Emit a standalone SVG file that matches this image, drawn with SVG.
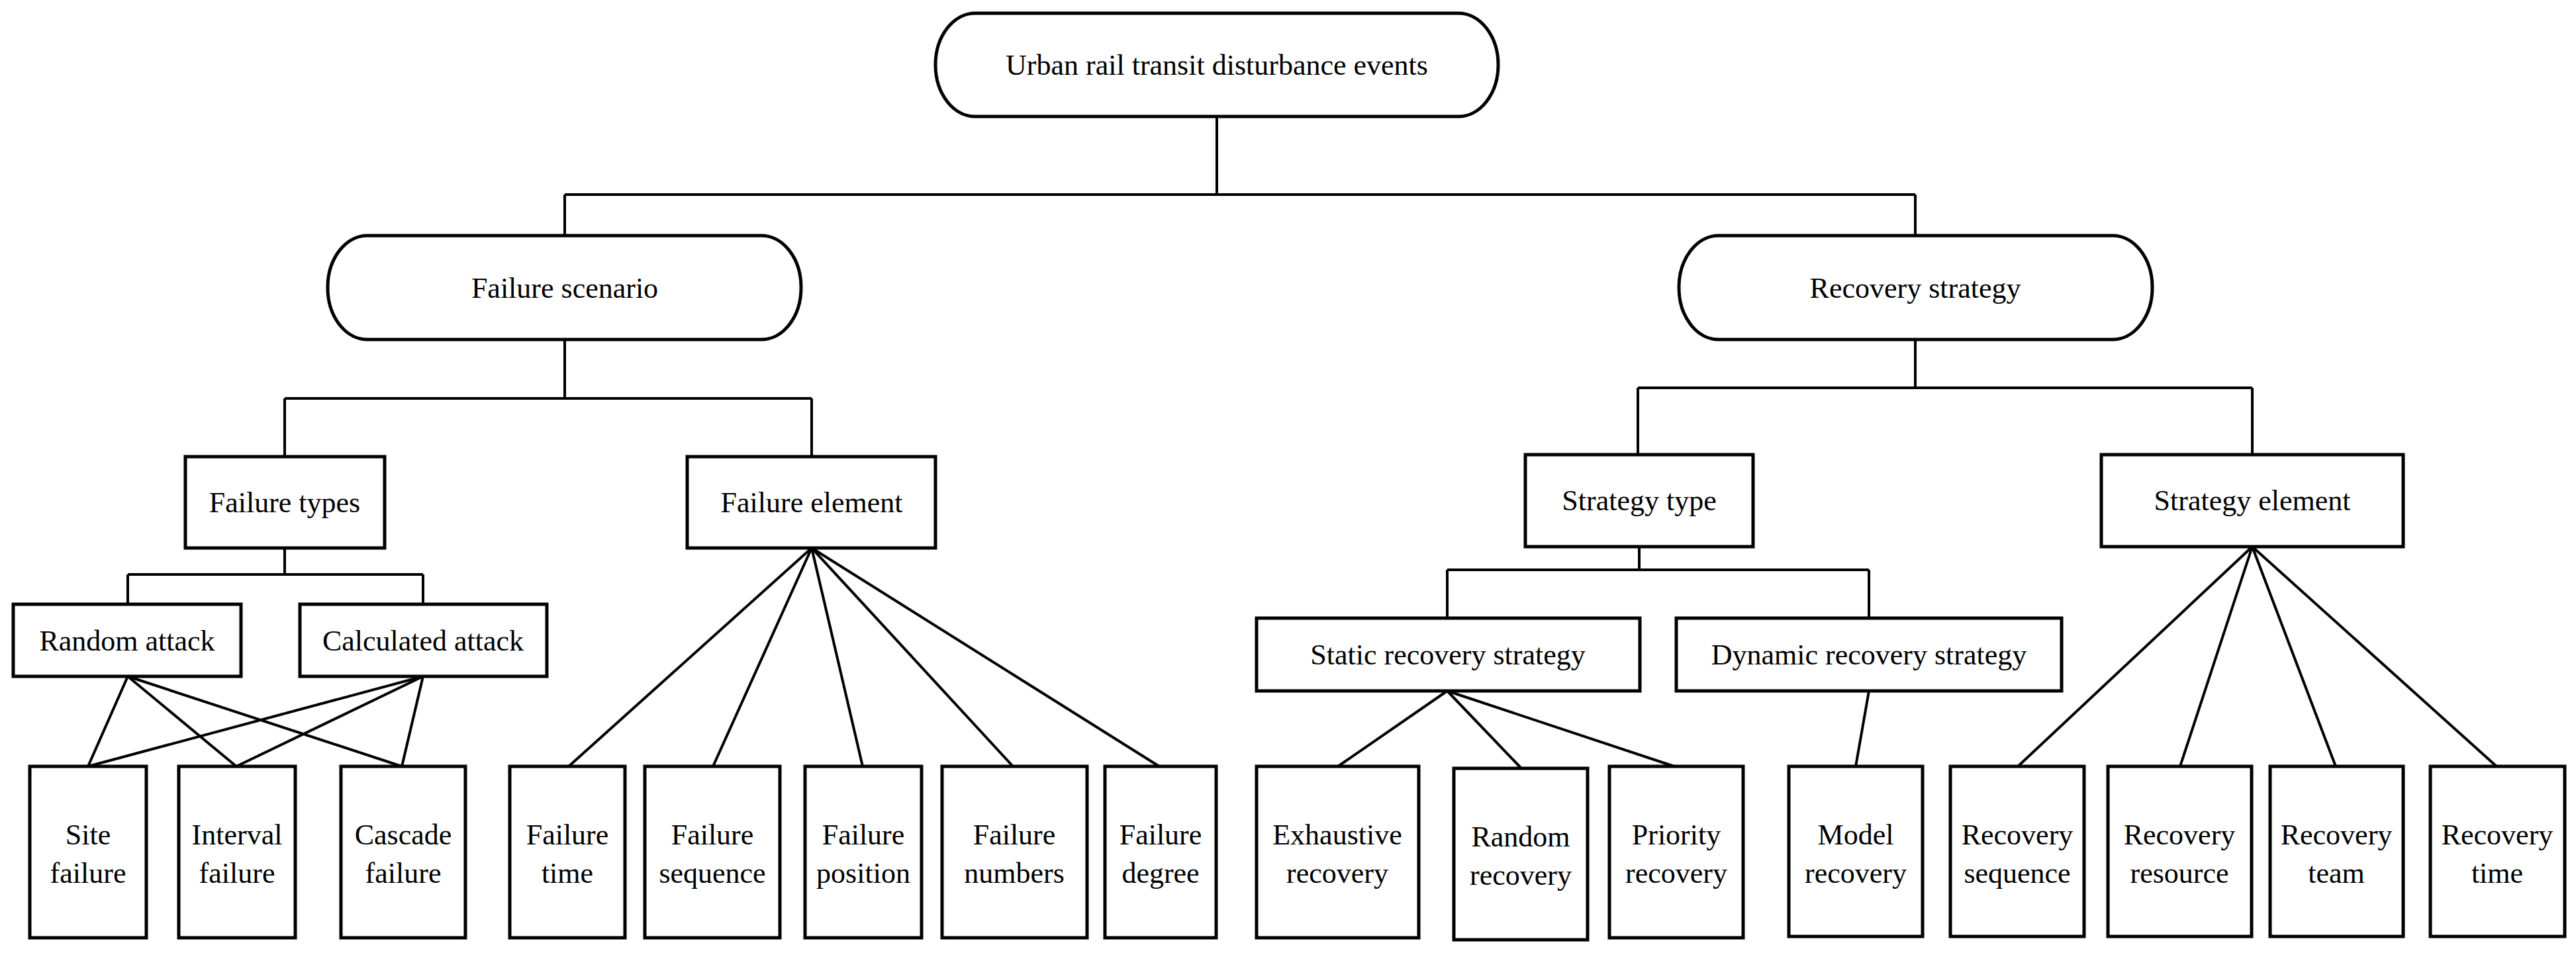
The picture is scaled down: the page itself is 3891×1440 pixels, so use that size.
<svg xmlns="http://www.w3.org/2000/svg" width="3891" height="1440" viewBox="0 0 3891 1440">
<style>
.b{fill:#fff;stroke:#000;stroke-width:5}
.c line{stroke:#000;stroke-width:4}
text{font-family:"Liberation Serif","DejaVu Serif",serif;font-size:44px;text-anchor:middle;dominant-baseline:central;fill:#000}
</style>
<rect width="3891" height="1440" fill="#fff"/>
<g id="connectors" class="c">
<line x1="1838" y1="176" x2="1838" y2="294"/><line x1="853" y1="294" x2="2893" y2="294"/>
<line x1="853" y1="294" x2="853" y2="356"/><line x1="2893" y1="294" x2="2893" y2="356"/>
<line x1="853" y1="513" x2="853" y2="602"/><line x1="430" y1="602" x2="1226" y2="602"/>
<line x1="430" y1="602" x2="430" y2="690"/><line x1="1226" y1="602" x2="1226" y2="690"/>
<line x1="430" y1="828" x2="430" y2="868"/><line x1="193" y1="868" x2="639" y2="868"/>
<line x1="193" y1="868" x2="193" y2="913"/><line x1="639" y1="868" x2="639" y2="913"/>
<line x1="193" y1="1022" x2="133" y2="1158"/><line x1="193" y1="1022" x2="357" y2="1158"/><line x1="193" y1="1022" x2="607" y2="1158"/>
<line x1="639" y1="1022" x2="133" y2="1158"/><line x1="639" y1="1022" x2="357" y2="1158"/><line x1="639" y1="1022" x2="607" y2="1158"/>
<line x1="1226" y1="828" x2="859" y2="1158"/><line x1="1226" y1="828" x2="1077" y2="1158"/><line x1="1226" y1="828" x2="1303" y2="1158"/><line x1="1226" y1="828" x2="1530" y2="1158"/><line x1="1226" y1="828" x2="1751" y2="1158"/>
<line x1="2893" y1="513" x2="2893" y2="586"/><line x1="2474" y1="586" x2="3402" y2="586"/>
<line x1="2474" y1="586" x2="2474" y2="687"/><line x1="3402" y1="586" x2="3402" y2="687"/>
<line x1="2476" y1="826" x2="2476" y2="861"/><line x1="2186" y1="861" x2="2823" y2="861"/>
<line x1="2186" y1="861" x2="2186" y2="934"/><line x1="2823" y1="861" x2="2823" y2="934"/>
<line x1="2186" y1="1044" x2="2021" y2="1158"/><line x1="2186" y1="1044" x2="2297" y2="1160"/><line x1="2186" y1="1044" x2="2529" y2="1158"/>
<line x1="2823" y1="1044" x2="2803" y2="1158"/>
<line x1="3402" y1="826" x2="3048" y2="1158"/><line x1="3402" y1="826" x2="3293" y2="1158"/><line x1="3402" y1="826" x2="3528" y2="1158"/><line x1="3402" y1="826" x2="3771" y2="1158"/>
</g>
<g id="root"><rect class="b" x="1413" y="20" width="850" height="156" rx="60" ry="78"/><text x="1838" y="98">Urban rail transit disturbance events</text></g>
<g id="failure-scenario"><rect class="b" x="495" y="356" width="715" height="157" rx="60" ry="78"/><text x="853" y="435">Failure scenario</text></g>
<g id="recovery-strategy"><rect class="b" x="2536" y="356" width="715" height="157" rx="60" ry="78"/><text x="2893" y="435">Recovery strategy</text></g>
<g id="failure-types"><rect class="b" x="280" y="690" width="301" height="138"/><text x="430" y="759">Failure types</text></g>
<g id="failure-element"><rect class="b" x="1038" y="690" width="375" height="138"/><text x="1226" y="759">Failure element</text></g>
<g id="strategy-type"><rect class="b" x="2304" y="687" width="344" height="139"/><text x="2476" y="756">Strategy type</text></g>
<g id="strategy-element"><rect class="b" x="3174" y="687" width="456" height="139"/><text x="3402" y="756">Strategy element</text></g>
<g id="random-attack"><rect class="b" x="20" y="913" width="344" height="109"/><text x="192" y="968">Random attack</text></g>
<g id="calculated-attack"><rect class="b" x="453" y="913" width="373" height="109"/><text x="639" y="968">Calculated attack</text></g>
<g id="static"><rect class="b" x="1898" y="934" width="579" height="110"/><text x="2187" y="989">Static recovery strategy</text></g>
<g id="dynamic"><rect class="b" x="2532" y="934" width="582" height="110"/><text x="2823" y="989">Dynamic recovery strategy</text></g>
<g id="site"><rect class="b" x="45" y="1158" width="176" height="259"/><text x="133" y="1261">Site</text><text x="133" y="1319">failure</text></g>
<g id="interval"><rect class="b" x="270" y="1158" width="176" height="259"/><text x="358" y="1261">Interval</text><text x="358" y="1319">failure</text></g>
<g id="cascade"><rect class="b" x="515" y="1158" width="188" height="259"/><text x="609" y="1261">Cascade</text><text x="609" y="1319">failure</text></g>
<g id="f-time"><rect class="b" x="770" y="1158" width="174" height="259"/><text x="857" y="1261">Failure</text><text x="857" y="1319">time</text></g>
<g id="f-seq"><rect class="b" x="974" y="1158" width="204" height="259"/><text x="1076" y="1261">Failure</text><text x="1076" y="1319">sequence</text></g>
<g id="f-pos"><rect class="b" x="1216" y="1158" width="176" height="259"/><text x="1304" y="1261">Failure</text><text x="1304" y="1319">position</text></g>
<g id="f-num"><rect class="b" x="1423" y="1158" width="219" height="259"/><text x="1532" y="1261">Failure</text><text x="1532" y="1319">numbers</text></g>
<g id="f-deg"><rect class="b" x="1669" y="1158" width="168" height="259"/><text x="1753" y="1261">Failure</text><text x="1753" y="1319">degree</text></g>
<g id="exhaustive"><rect class="b" x="1898" y="1158" width="245" height="259"/><text x="2020" y="1261">Exhaustive</text><text x="2020" y="1319">recovery</text></g>
<g id="random-rec"><rect class="b" x="2196" y="1161" width="202" height="259"/><text x="2297" y="1264">Random</text><text x="2297" y="1322">recovery</text></g>
<g id="priority"><rect class="b" x="2431" y="1158" width="202" height="259"/><text x="2532" y="1261">Priority</text><text x="2532" y="1319">recovery</text></g>
<g id="model"><rect class="b" x="2702" y="1158" width="202" height="257"/><text x="2803" y="1261">Model</text><text x="2803" y="1319">recovery</text></g>
<g id="r-seq"><rect class="b" x="2946" y="1158" width="202" height="257"/><text x="3047" y="1261">Recovery</text><text x="3047" y="1319">sequence</text></g>
<g id="r-res"><rect class="b" x="3184" y="1158" width="217" height="257"/><text x="3292" y="1261">Recovery</text><text x="3292" y="1319">resource</text></g>
<g id="r-team"><rect class="b" x="3429" y="1158" width="201" height="257"/><text x="3529" y="1261">Recovery</text><text x="3529" y="1319">team</text></g>
<g id="r-time"><rect class="b" x="3671" y="1158" width="203" height="257"/><text x="3772" y="1261">Recovery</text><text x="3772" y="1319">time</text></g>
</svg>
